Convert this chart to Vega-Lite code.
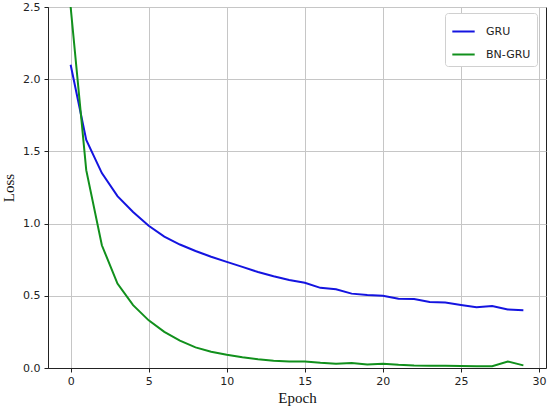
{
  "$schema": "https://vega.github.io/schema/vega-lite/v6.json",
  "width": 498,
  "height": 361,
  "autosize": {"type": "none"},
  "padding": {"left": 48, "top": 7, "right": 4, "bottom": 44},
  "background": "white",
  "config": {
    "view": {"stroke": "#222", "strokeWidth": 1},
    "axis": {
      "domainColor": "#222",
      "tickColor": "#222",
      "gridColor": "#c6c6c6",
      "gridWidth": 1,
      "labelFont": "DejaVu Sans",
      "labelFontSize": 11,
      "labelColor": "#222",
      "titleFont": "Liberation Serif",
      "titleFontSize": 15,
      "titleFontWeight": "normal",
      "titleColor": "#111",
      "tickSize": 4
    }
  },
  "data": {
    "values": [
      {"epoch": 0, "loss": 2.10, "model": "GRU"},
      {"epoch": 1, "loss": 1.58, "model": "GRU"},
      {"epoch": 2, "loss": 1.35, "model": "GRU"},
      {"epoch": 3, "loss": 1.19, "model": "GRU"},
      {"epoch": 4, "loss": 1.08, "model": "GRU"},
      {"epoch": 5, "loss": 0.985, "model": "GRU"},
      {"epoch": 6, "loss": 0.91, "model": "GRU"},
      {"epoch": 7, "loss": 0.855, "model": "GRU"},
      {"epoch": 8, "loss": 0.81, "model": "GRU"},
      {"epoch": 9, "loss": 0.77, "model": "GRU"},
      {"epoch": 10, "loss": 0.735, "model": "GRU"},
      {"epoch": 11, "loss": 0.70, "model": "GRU"},
      {"epoch": 12, "loss": 0.665, "model": "GRU"},
      {"epoch": 13, "loss": 0.635, "model": "GRU"},
      {"epoch": 14, "loss": 0.61, "model": "GRU"},
      {"epoch": 15, "loss": 0.59, "model": "GRU"},
      {"epoch": 16, "loss": 0.555, "model": "GRU"},
      {"epoch": 17, "loss": 0.545, "model": "GRU"},
      {"epoch": 18, "loss": 0.515, "model": "GRU"},
      {"epoch": 19, "loss": 0.505, "model": "GRU"},
      {"epoch": 20, "loss": 0.50, "model": "GRU"},
      {"epoch": 21, "loss": 0.48, "model": "GRU"},
      {"epoch": 22, "loss": 0.477, "model": "GRU"},
      {"epoch": 23, "loss": 0.457, "model": "GRU"},
      {"epoch": 24, "loss": 0.453, "model": "GRU"},
      {"epoch": 25, "loss": 0.437, "model": "GRU"},
      {"epoch": 26, "loss": 0.42, "model": "GRU"},
      {"epoch": 27, "loss": 0.43, "model": "GRU"},
      {"epoch": 28, "loss": 0.405, "model": "GRU"},
      {"epoch": 29, "loss": 0.40, "model": "GRU"},
      {"epoch": 0, "loss": 2.50, "model": "BN-GRU"},
      {"epoch": 1, "loss": 1.37, "model": "BN-GRU"},
      {"epoch": 2, "loss": 0.85, "model": "BN-GRU"},
      {"epoch": 3, "loss": 0.585, "model": "BN-GRU"},
      {"epoch": 4, "loss": 0.435, "model": "BN-GRU"},
      {"epoch": 5, "loss": 0.33, "model": "BN-GRU"},
      {"epoch": 6, "loss": 0.25, "model": "BN-GRU"},
      {"epoch": 7, "loss": 0.19, "model": "BN-GRU"},
      {"epoch": 8, "loss": 0.143, "model": "BN-GRU"},
      {"epoch": 9, "loss": 0.113, "model": "BN-GRU"},
      {"epoch": 10, "loss": 0.092, "model": "BN-GRU"},
      {"epoch": 11, "loss": 0.074, "model": "BN-GRU"},
      {"epoch": 12, "loss": 0.06, "model": "BN-GRU"},
      {"epoch": 13, "loss": 0.051, "model": "BN-GRU"},
      {"epoch": 14, "loss": 0.045, "model": "BN-GRU"},
      {"epoch": 15, "loss": 0.045, "model": "BN-GRU"},
      {"epoch": 16, "loss": 0.036, "model": "BN-GRU"},
      {"epoch": 17, "loss": 0.03, "model": "BN-GRU"},
      {"epoch": 18, "loss": 0.035, "model": "BN-GRU"},
      {"epoch": 19, "loss": 0.025, "model": "BN-GRU"},
      {"epoch": 20, "loss": 0.03, "model": "BN-GRU"},
      {"epoch": 21, "loss": 0.022, "model": "BN-GRU"},
      {"epoch": 22, "loss": 0.017, "model": "BN-GRU"},
      {"epoch": 23, "loss": 0.016, "model": "BN-GRU"},
      {"epoch": 24, "loss": 0.015, "model": "BN-GRU"},
      {"epoch": 25, "loss": 0.014, "model": "BN-GRU"},
      {"epoch": 26, "loss": 0.012, "model": "BN-GRU"},
      {"epoch": 27, "loss": 0.012, "model": "BN-GRU"},
      {"epoch": 28, "loss": 0.045, "model": "BN-GRU"},
      {"epoch": 29, "loss": 0.018, "model": "BN-GRU"}
    ]
  },
  "mark": {"type": "line", "strokeWidth": 2, "clip": true},
  "encoding": {
    "x": {
      "field": "epoch",
      "type": "quantitative",
      "title": "Epoch",
      "scale": {"domain": [-1.45, 30.45], "nice": false, "zero": false},
      "axis": {"values": [0, 5, 10, 15, 20, 25, 30], "labelPadding": 3, "titlePadding": 4}
    },
    "y": {
      "field": "loss",
      "type": "quantitative",
      "title": "Loss",
      "scale": {"domain": [0, 2.5], "nice": false},
      "axis": {"values": [0, 0.5, 1, 1.5, 2, 2.5], "format": ".1f", "labelPadding": 4, "titlePadding": 6}
    },
    "color": {
      "field": "model",
      "type": "nominal",
      "sort": ["GRU", "BN-GRU"],
      "scale": {"domain": ["GRU", "BN-GRU"], "range": ["#1414e0", "#11901c"]},
      "legend": {
        "title": null,
        "orient": "none",
        "legendX": 397,
        "legendY": 6,
        "symbolType": "stroke",
        "symbolStrokeWidth": 2,
        "symbolSize": 500,
        "labelFont": "DejaVu Sans",
        "labelFontSize": 11,
        "labelColor": "#222",
        "labelOffset": 10,
        "rowPadding": 5,
        "fillColor": "white",
        "strokeColor": "#d0d0d0",
        "cornerRadius": 3,
        "padding": 6
      }
    }
  }
}
